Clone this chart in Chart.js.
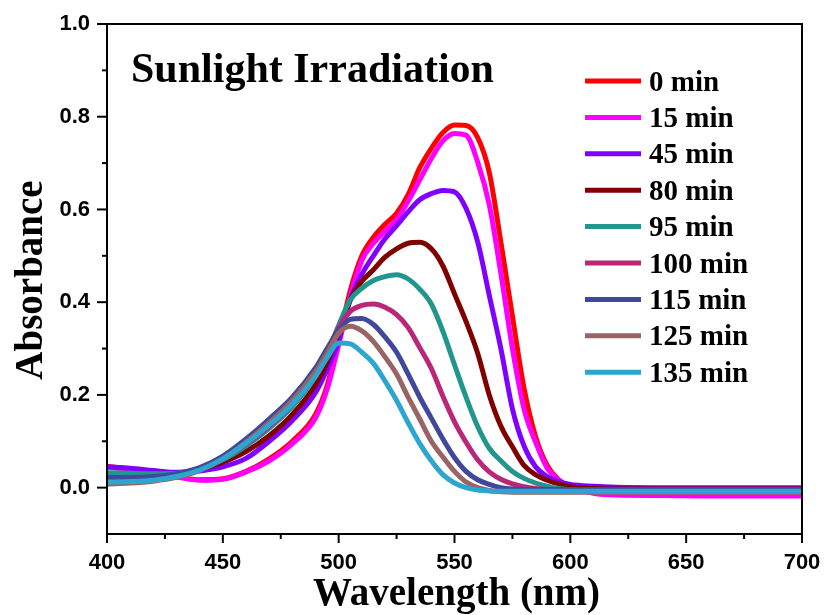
<!DOCTYPE html>
<html>
<head>
<meta charset="utf-8">
<script src="https://cdn.jsdelivr.net/npm/chart.js@4.4.1/dist/chart.umd.min.js"></script>
<style>
  html, body { margin: 0; padding: 0; background: #ffffff; }
  #wrap { width: 824px; height: 615px; }
</style>
</head>
<body>
<div id="wrap"><canvas id="chart" width="824" height="615"></canvas></div>
<script>
// Wavelength grid (nm) shared by every spectrum
const wavelengths = [400, 410, 420, 430, 440, 450, 460, 470, 480, 490, 495, 500, 505, 510, 515, 520, 525, 530, 535, 540, 545, 550, 555, 560, 565, 570, 575, 580, 585, 590, 595, 600, 610, 620, 640, 660, 680, 700];

// Absorbance spectra recorded at each irradiation time
const abs0 = [0.046, 0.040, 0.033, 0.024, 0.017, 0.019, 0.035, 0.062, 0.100, 0.158, 0.220, 0.318, 0.425, 0.500, 0.540, 0.568, 0.592, 0.632, 0.690, 0.732, 0.766, 0.782, 0.781, 0.755, 0.680, 0.530, 0.370, 0.215, 0.110, 0.048, 0.017, 0.002, -0.010, -0.014, -0.015, -0.016, -0.016, -0.016];
const abs15 = [0.044, 0.039, 0.032, 0.023, 0.016, 0.018, 0.034, 0.058, 0.095, 0.150, 0.212, 0.308, 0.412, 0.490, 0.527, 0.553, 0.578, 0.618, 0.664, 0.710, 0.748, 0.764, 0.760, 0.702, 0.610, 0.462, 0.300, 0.170, 0.098, 0.042, 0.016, 0.002, -0.012, -0.016, -0.017, -0.018, -0.018, -0.018];
const abs45 = [0.045, 0.042, 0.037, 0.033, 0.036, 0.045, 0.063, 0.100, 0.145, 0.205, 0.255, 0.318, 0.405, 0.460, 0.500, 0.537, 0.565, 0.595, 0.621, 0.634, 0.641, 0.638, 0.602, 0.530, 0.415, 0.300, 0.170, 0.090, 0.045, 0.024, 0.013, 0.007, 0.003, 0.001, 0.000, 0.000, 0.000, 0.000];
const abs80 = [0.030, 0.030, 0.029, 0.030, 0.040, 0.055, 0.078, 0.112, 0.158, 0.222, 0.270, 0.335, 0.405, 0.445, 0.470, 0.497, 0.515, 0.527, 0.529, 0.515, 0.478, 0.418, 0.358, 0.290, 0.200, 0.133, 0.088, 0.048, 0.028, 0.016, 0.008, 0.002, -0.002, -0.003, -0.003, -0.003, -0.003, -0.003];
const abs95 = [0.032, 0.031, 0.030, 0.031, 0.040, 0.060, 0.090, 0.128, 0.175, 0.240, 0.288, 0.350, 0.405, 0.430, 0.447, 0.455, 0.459, 0.450, 0.428, 0.396, 0.337, 0.265, 0.195, 0.132, 0.085, 0.058, 0.035, 0.020, 0.010, 0.003, -0.002, -0.004, -0.006, -0.007, -0.007, -0.007, -0.007, -0.007];
const abs100 = [0.020, 0.021, 0.023, 0.028, 0.040, 0.062, 0.094, 0.132, 0.180, 0.246, 0.292, 0.345, 0.380, 0.393, 0.396, 0.389, 0.373, 0.345, 0.302, 0.257, 0.197, 0.142, 0.098, 0.060, 0.034, 0.018, 0.008, 0.002, -0.002, -0.004, -0.005, -0.005, -0.005, -0.005, -0.005, -0.005, -0.005, -0.005];
const abs115 = [0.022, 0.022, 0.024, 0.030, 0.043, 0.068, 0.105, 0.148, 0.195, 0.258, 0.300, 0.340, 0.363, 0.365, 0.352, 0.325, 0.292, 0.245, 0.195, 0.150, 0.105, 0.065, 0.035, 0.017, 0.007, 0.000, -0.003, -0.004, -0.004, -0.004, -0.004, -0.004, -0.004, -0.004, -0.004, -0.004, -0.004, -0.004];
const abs125 = [0.008, 0.010, 0.014, 0.022, 0.037, 0.062, 0.098, 0.140, 0.188, 0.250, 0.290, 0.333, 0.348, 0.338, 0.315, 0.282, 0.245, 0.195, 0.148, 0.100, 0.066, 0.035, 0.012, 0.000, -0.006, -0.009, -0.010, -0.010, -0.010, -0.010, -0.010, -0.010, -0.010, -0.010, -0.010, -0.010, -0.010, -0.010];
const abs135 = [0.012, 0.013, 0.016, 0.024, 0.038, 0.062, 0.096, 0.135, 0.180, 0.240, 0.280, 0.312, 0.310, 0.292, 0.268, 0.230, 0.188, 0.140, 0.095, 0.058, 0.028, 0.010, 0.000, -0.005, -0.007, -0.008, -0.008, -0.008, -0.008, -0.008, -0.008, -0.008, -0.008, -0.008, -0.008, -0.008, -0.008, -0.008];

const seriesLabels = ['0 min', '15 min', '45 min', '80 min', '95 min', '100 min', '115 min', '125 min', '135 min'];
const seriesValues = [abs0, abs15, abs45, abs80, abs95, abs100, abs115, abs125, abs135];
const seriesColors = ['#ff0000', '#ff00ff', '#8000ff', '#800000', '#21968e', '#ba2779', '#41479a', '#9a6464', '#2ca6d0'];

const xTickValues = [400, 450, 500, 550, 600, 650, 700];
const yTickValues = [0.0, 0.2, 0.4, 0.6, 0.8, 1.0];

const SERIF = '"Liberation Serif", "Times New Roman", serif';
const SANS = '"Liberation Sans", Arial, sans-serif';

// keep the plot box fixed: no extra room reserved for overhanging tick labels
function noOverhang(s) {
  s.paddingLeft = 0;
  s.paddingRight = 0;
  s.paddingTop = 0;
  s.paddingBottom = 0;
}

// Frame, tick marks, heading, axis titles and the legend box
const decorations = {
  id: 'decorations',
  afterDraw(chart) {
    const ctx = chart.ctx;
    const area = chart.chartArea;
    const xs = chart.scales.x;
    const ys = chart.scales.y;
    ctx.save();

    // box around the plot
    ctx.strokeStyle = '#000';
    ctx.lineWidth = 2;
    ctx.strokeRect(area.left, area.top, area.right - area.left, area.bottom - area.top);

    // x ticks (major every 50 nm, minor every 25 nm)
    for (let v = 400; v <= 700; v += 25) {
      const px = xs.getPixelForValue(v);
      const len = (v % 50 === 0) ? 9 : 5;
      ctx.beginPath();
      ctx.moveTo(px, area.bottom);
      ctx.lineTo(px, area.bottom + len);
      ctx.stroke();
    }
    // y ticks (major every 0.2, minor every 0.1)
    for (let i = 0; i <= 10; i++) {
      const py = ys.getPixelForValue(i / 10);
      const len = (i % 2 === 0) ? 10 : 5;
      ctx.beginPath();
      ctx.moveTo(area.left, py);
      ctx.lineTo(area.left - len, py);
      ctx.stroke();
    }

    ctx.fillStyle = '#000';
    // heading inside the plot
    ctx.font = 'bold 42px ' + SERIF;
    ctx.textAlign = 'left';
    ctx.textBaseline = 'alphabetic';
    ctx.fillText('Sunlight Irradiation', area.left + 24, 82);

    // axis titles
    ctx.font = 'bold 39px ' + SERIF;
    ctx.textAlign = 'center';
    ctx.fillText('Wavelength (nm)', (area.left + area.right) / 2 + 2, 605);
    ctx.save();
    ctx.translate(42, (area.top + area.bottom) / 2 + 1);
    ctx.rotate(-Math.PI / 2);
    ctx.fillText('Absorbance', 0, 0);
    ctx.restore();

    // legend
    ctx.font = 'bold 29px ' + SERIF;
    ctx.textAlign = 'left';
    chart.data.datasets.forEach((ds, i) => {
      const y = 81 + i * 36.4;
      ctx.strokeStyle = ds.borderColor;
      ctx.lineWidth = 5;
      ctx.lineCap = 'butt';
      ctx.beginPath();
      ctx.moveTo(585, y);
      ctx.lineTo(641, y);
      ctx.stroke();
      ctx.fillStyle = '#000';
      ctx.fillText(ds.label, 649, y + 9.5);
    });

    ctx.restore();
  }
};

const datasets = seriesLabels.map((label, i) => ({
  label: label,
  data: wavelengths.map((w, k) => ({ x: w, y: seriesValues[i][k] })),
  borderColor: seriesColors[i],
  backgroundColor: seriesColors[i],
  borderWidth: 5,
  pointRadius: 0,
  fill: false,
  cubicInterpolationMode: 'monotone',
  // later spectra sit on top of earlier ones
  order: seriesLabels.length - i
}));

new Chart(document.getElementById('chart'), {
  type: 'line',
  data: { datasets: datasets },
  options: {
    responsive: false,
    animation: false,
    devicePixelRatio: 1,
    layout: { padding: { top: 24, right: 22, left: 0, bottom: 0 } },
    plugins: {
      legend: { display: false },
      tooltip: { enabled: false },
      title: { display: false }
    },
    scales: {
      x: {
        type: 'linear',
        min: 400,
        max: 700,
        afterBuildTicks: s => { s.ticks = xTickValues.map(v => ({ value: v })); },
        afterFit: s => { s.height = 81; noOverhang(s); },
        grid: { display: false, drawTicks: false },
        border: { display: false },
        ticks: {
          color: '#000',
          padding: 16,
          maxRotation: 0,
          font: { family: SANS, size: 22, weight: 'bold' },
          callback: v => String(v)
        }
      },
      y: {
        type: 'linear',
        min: -0.1,
        max: 1.0,
        afterBuildTicks: s => { s.ticks = yTickValues.map(v => ({ value: v })); },
        afterFit: s => { s.width = 107; noOverhang(s); },
        grid: { display: false, drawTicks: false },
        border: { display: false },
        ticks: {
          color: '#000',
          padding: 17,
          font: { family: SANS, size: 22, weight: 'bold' },
          callback: v => Number(v).toFixed(1)
        }
      }
    }
  },
  plugins: [decorations]
});
</script>
</body>
</html>
